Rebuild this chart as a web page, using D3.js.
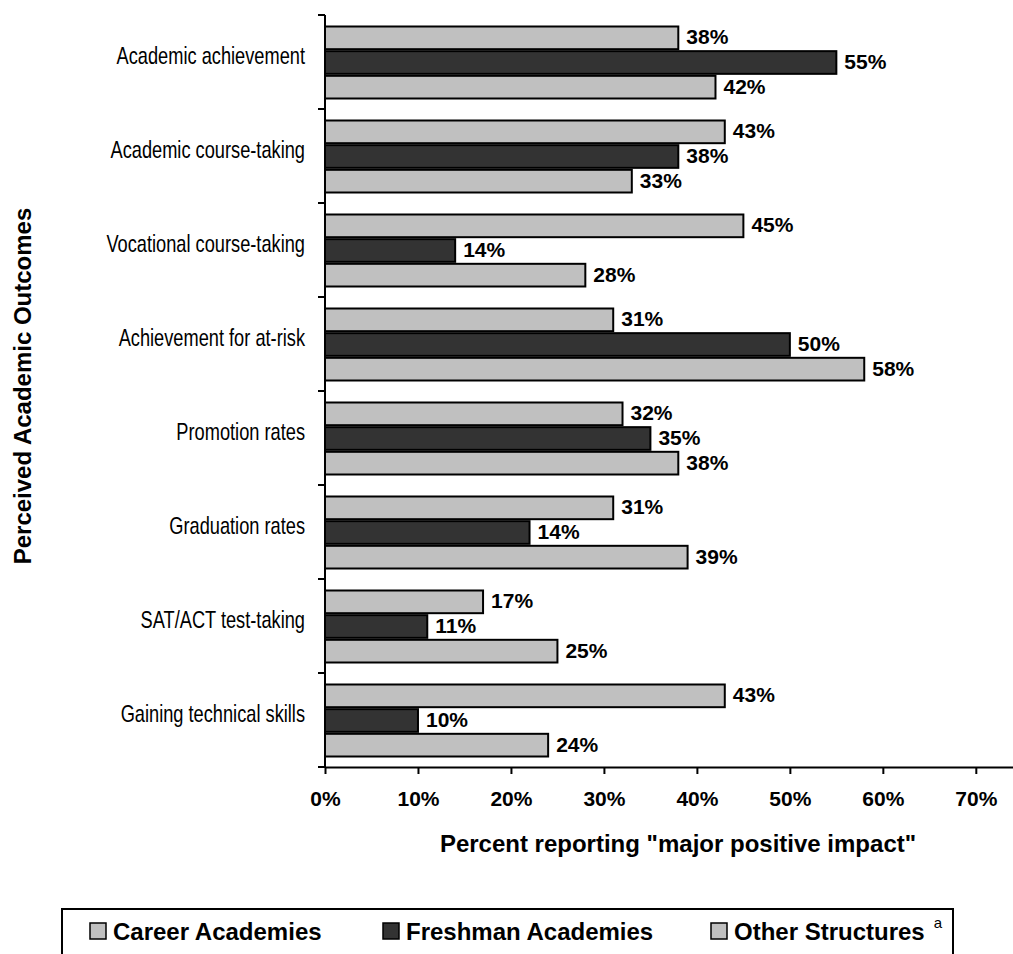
<!DOCTYPE html>
<html>
<head>
<meta charset="utf-8">
<script src="https://cdn.jsdelivr.net/npm/d3@7"></script>
<style>
  html, body { margin: 0; padding: 0; background: #fff; }
  svg { display: block; }
  text { font-family: "Liberation Sans", Arial, sans-serif; fill: #000; }
</style>
</head>
<body>
<svg id="chart" width="1013" height="954"></svg>
<script>
const categories = [
  "Academic achievement",
  "Academic course-taking",
  "Vocational course-taking",
  "Achievement for at-risk",
  "Promotion rates",
  "Graduation rates",
  "SAT/ACT test-taking",
  "Gaining technical skills"
];
const seriesNames = ["Career Academies", "Freshman Academies", "Other Structures"];
const careerValues   = [38, 43, 45, 31, 32, 31, 17, 43];
const freshmanValues = [55, 38, 14, 50, 35, 22, 11, 10];
const otherValues    = [42, 33, 28, 58, 38, 39, 25, 24];
const careerLabels   = ["38%", "43%", "45%", "31%", "32%", "31%", "17%", "43%"];
const freshmanLabels = ["55%", "38%", "14%", "50%", "35%", "14%", "11%", "10%"];
const otherLabels    = ["42%", "33%", "28%", "58%", "38%", "39%", "25%", "24%"];
const xTicks = [0, 10, 20, 30, 40, 50, 60, 70];
const xTitle = 'Percent reporting "major positive impact"';
const yTitle = "Perceived Academic Outcomes";

const seriesValues = [careerValues, freshmanValues, otherValues];
const seriesLabels = [careerLabels, freshmanLabels, otherLabels];
const fills = ["#c0c0c0", "#333333", "#c0c0c0"];

const svg = d3.select("#chart");
const plotL = 325, plotR = 1013, plotT = 15, plotB = 767;

const x = d3.scaleLinear().domain([0, 74]).range([plotL, plotR]);
const y = d3.scaleBand().domain(categories).range([plotT, plotB])
  .paddingInner(0.234).paddingOuter(0.117);
const ySub = d3.scaleBand().domain([0, 1, 2]).range([0, y.bandwidth()]).paddingInner(0.08);

const rows = [];
categories.forEach((c, i) => {
  seriesValues.forEach((vals, s) => {
    rows.push({ cat: c, s, v: vals[i], label: seriesLabels[s][i] });
  });
});

svg.append("g").selectAll("rect").data(rows).join("rect")
  .attr("x", x(0))
  .attr("y", d => y(d.cat) + ySub(d.s) + 0.5)
  .attr("width", d => x(d.v) - x(0))
  .attr("height", ySub.bandwidth())
  .attr("fill", d => fills[d.s])
  .attr("stroke", "#000")
  .attr("stroke-width", 2);

svg.append("g").selectAll("text").data(rows).join("text")
  .attr("x", d => x(d.v) + 8)
  .attr("y", d => y(d.cat) + ySub(d.s) + ySub.bandwidth() / 2)
  .attr("dy", "0.34em")
  .attr("font-size", 21)
  .attr("font-weight", "bold")
  .text(d => d.label);

// y axis
const yAxisG = svg.append("g");
yAxisG.append("line").attr("x1", plotL).attr("x2", plotL).attr("y1", plotT).attr("y2", plotB)
  .attr("stroke", "#000").attr("stroke-width", 2);
const boundaries = d3.range(categories.length + 1).map(i => plotT + i * y.step());
yAxisG.selectAll("line.tk").data(boundaries).join("line").attr("class", "tk")
  .attr("x1", plotL - 7).attr("x2", plotL).attr("y1", d => d).attr("y2", d => d)
  .attr("stroke", "#000").attr("stroke-width", 2);
yAxisG.selectAll("text").data(categories).join("text")
  .attr("transform", d => `translate(305,${y(d) + y.bandwidth() / 2 - 6}) scale(0.76,1)`)
  .attr("dy", "0.35em")
  .attr("text-anchor", "end")
  .attr("font-size", 24)
  .text(d => d);

// x axis
const xAxis = d3.axisBottom(x).tickValues(xTicks).tickFormat(d => d + "%").tickSize(7).tickSizeOuter(0);
const xg = svg.append("g").attr("transform", `translate(0,${plotB})`).call(xAxis);
xg.select(".domain").attr("stroke", "#000").attr("stroke-width", 2);
xg.selectAll(".tick line").attr("stroke", "#000").attr("stroke-width", 2);
xg.selectAll(".tick text").attr("font-size", 21).attr("font-weight", "bold")
  .attr("font-family", "Liberation Sans, Arial, sans-serif").attr("fill", "#000")
  .attr("y", 32).attr("dy", "0.35em");

// titles
svg.append("text").attr("x", 678).attr("y", 844).attr("dy", "0.35em").attr("text-anchor", "middle")
  .attr("font-size", 24).attr("font-weight", "bold").text(xTitle);
svg.append("text").attr("transform", "translate(31,386) rotate(-90)").attr("text-anchor", "middle")
  .attr("font-size", 24).attr("font-weight", "bold").text(yTitle);

// legend
const lg = svg.append("g");
lg.append("rect").attr("x", 62).attr("y", 909).attr("width", 891).attr("height", 60)
  .attr("fill", "#fff").attr("stroke", "#000").attr("stroke-width", 2);
const legendX = [90, 383, 711];
seriesNames.forEach((n, i) => {
  const g = lg.append("g").attr("transform", `translate(${legendX[i]},931)`);
  g.append("rect").attr("x", 0).attr("y", -8).attr("width", 16).attr("height", 16)
    .attr("fill", fills[i]).attr("stroke", "#000").attr("stroke-width", 1.5);
  const t = g.append("text").attr("x", 23).attr("dy", "0.36em").attr("font-size", 24).attr("font-weight", "bold").text(n);
  if (i === 2) {
    t.append("tspan").attr("font-weight", "normal").attr("font-size", 15).attr("dx", 9).attr("dy", "-0.75em").text("a");
  }
});
</script>
</body>
</html>
